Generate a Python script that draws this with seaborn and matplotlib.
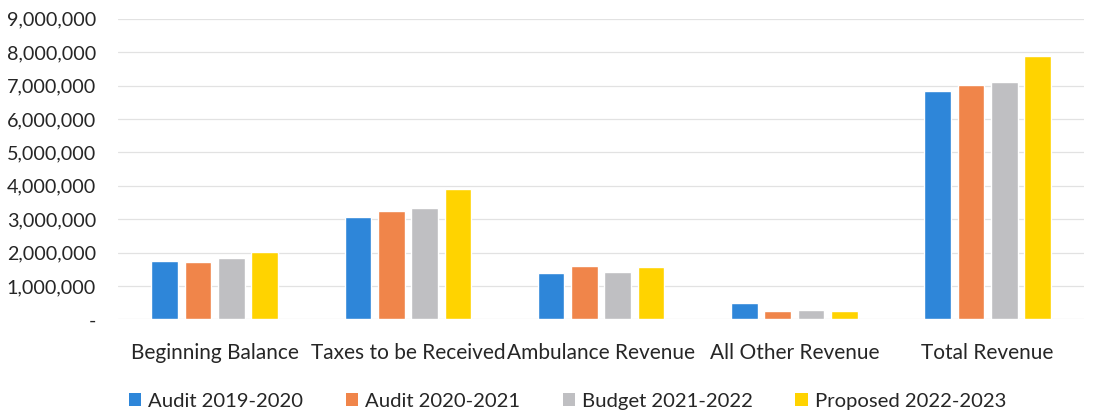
import matplotlib
matplotlib.use("Agg")
import matplotlib.pyplot as plt
import seaborn as sns
import pandas as pd
from matplotlib.ticker import FuncFormatter
from matplotlib.patches import Patch

categories = ["Beginning Balance", "Taxes to be Received", "Ambulance Revenue",
              "All Other Revenue", "Total Revenue"]
series_names = ["Audit 2019-2020", "Audit 2020-2021", "Budget 2021-2022", "Proposed 2022-2023"]
audit_2019_2020 = [1750000, 3050000, 1400000, 490000, 6850000]
audit_2020_2021 = [1730000, 3230000, 1610000, 260000, 7020000]
budget_2021_2022 = [1850000, 3340000, 1430000, 280000, 7100000]
proposed_2022_2023 = [2020000, 3890000, 1580000, 240000, 7900000]
colors = ["#2e86d9", "#f0854a", "#bfbfc2", "#ffd300"]

rows = []
for name, vals in zip(series_names, [audit_2019_2020, audit_2020_2021,
                                     budget_2021_2022, proposed_2022_2023]):
    for c, v in zip(categories, vals):
        rows.append({"Category": c, "Series": name, "Value": v})
df = pd.DataFrame(rows)

sns.set_theme(style="white")
plt.rcParams["font.family"] = ["Lato", "DejaVu Sans"]

fig = plt.figure(figsize=(11.04, 4.19), dpi=100)
ax = fig.add_axes([0.107, 0.238, 0.875, 0.717])

sns.barplot(data=df, x="Category", y="Value", hue="Series", order=categories,
            hue_order=series_names, palette=colors, width=0.69, gap=0.2,
            saturation=1, ax=ax, legend=False)

ax.set_ylim(0, 9000000)
ax.set_yticks(range(0, 9000001, 1000000))
ax.yaxis.set_major_formatter(FuncFormatter(lambda v, p: "-" if v == 0 else f"{int(v):,}"))
ax.grid(axis="y", color="#e2e2e2", linewidth=0.9)
ax.set_axisbelow(True)
for s in ax.spines.values():
    s.set_visible(False)
ax.set_xlabel("")
ax.set_ylabel("")
ax.tick_params(axis="y", labelsize=14.2, labelcolor="#262626", pad=16, length=0)
ax.tick_params(axis="x", labelsize=15, labelcolor="#262626", pad=17, length=0)

handles = [Patch(facecolor=c, edgecolor="none") for c in colors]
fig.legend(handles, series_names, loc="center", bbox_to_anchor=(0.514, 0.042), ncol=4,
           frameon=False, fontsize=14.6, handlelength=0.6, handleheight=0.6,
           handletextpad=0.35, columnspacing=2.1, labelcolor="#262626")

fig.savefig("out.png", dpi=100)
